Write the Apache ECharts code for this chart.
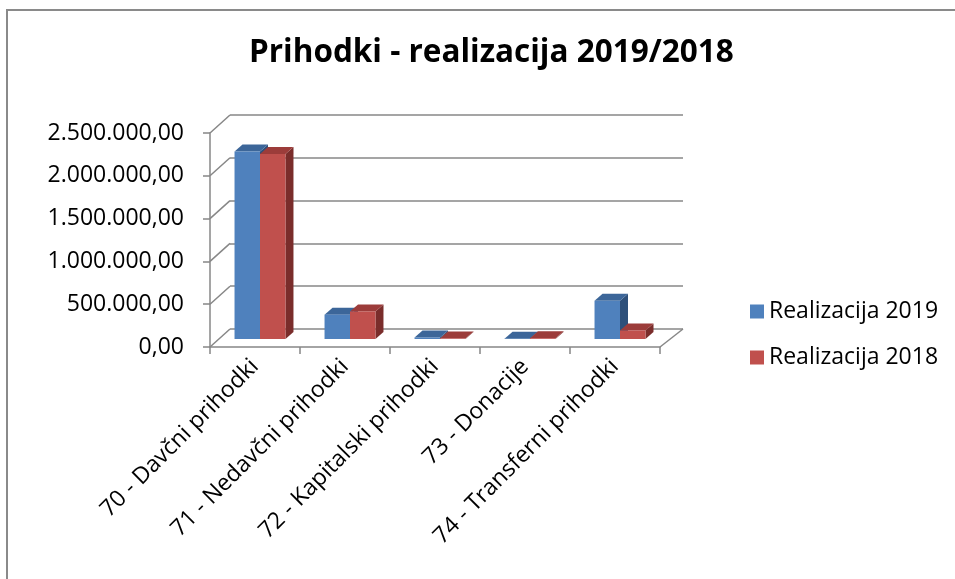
<!DOCTYPE html>
<html>
<head>
<meta charset="utf-8">
<script src="https://cdn.jsdelivr.net/npm/echarts@6/dist/echarts.min.js"></script>
<style>html,body{margin:0;padding:0;background:#fff}#c{width:955px;height:579px}</style>
</head>
<body>
<div id="c"></div>
<script>
const categories = ['70 - Davčni prihodki', '71 - Nedavčni prihodki', '72 - Kapitalski prihodki', '73 - Donacije', '74 - Transferni prihodki'];
const seriesNames = ['Realizacija 2019', 'Realizacija 2018'];
const realizacija2019 = [2190000, 284000, 18000, 4000, 447000];
const realizacija2018 = [2160000, 322000, 6000, 9000, 100000];
const yTicks = [0, 500000, 1000000, 1500000, 2000000, 2500000];

const FONT = 'Open Sans';
const front = ['#4f81bd', '#c0504d'];
const topC = ['#3c6699', '#9c3c3a'];
const sideC = ['#2e507a', '#7a2d2b'];
const GRIDC = '#878787';

function fmt(v) {
  const s = Math.round(v).toString().replace(/\B(?=(\d{3})+(?!\d))/g, '.');
  return s + ',00';
}

function barRender(si) {
  return function (params, api) {
    const ci = api.value(0), v = api.value(1);
    const base = api.coord([ci, 0]);
    const top = api.coord([ci, v]);
    const band = api.size([1, 0])[0];
    const w = band * 0.283;
    const sx = 5, sy = -8, dx = 8, dy = -7;
    const x0 = base[0] + sx + (si === 0 ? -w : 0);
    const yb = base[1] + sy, yt = top[1] + sy;
    const children = [
      { type: 'polygon', shape: { points: [[x0 + w, yt], [x0 + w + dx, yt + dy], [x0 + w + dx, yb + dy], [x0 + w, yb]] }, style: { fill: sideC[si] } },
      { type: 'polygon', shape: { points: [[x0, yt], [x0 + w, yt], [x0 + w + dx, yt + dy], [x0 + dx, yt + dy]] }, style: { fill: topC[si] } },
      { type: 'rect', shape: { x: x0, y: yt, width: w, height: Math.max(yb - yt, 0.01) }, style: { fill: front[si] } }
    ];
    return { type: 'group', children: children };
  };
}

function wallRender(params, api) {
  const v = api.value(0);
  const p = api.coord([0, v]);
  const band = api.size([1, 0])[0];
  const left = p[0] - band / 2;
  const children = [
    { type: 'line', shape: { x1: left, y1: p[1], x2: left + 20, y2: p[1] - 18 }, style: { stroke: GRIDC, lineWidth: 1.5 } }
  ];
  if (v === 0) {
    const pr = api.coord([categories.length - 1, 0]);
    const right = pr[0] + band / 2;
    children.push({ type: 'line', shape: { x1: right, y1: p[1], x2: right + 23, y2: p[1] - 18 }, style: { stroke: GRIDC, lineWidth: 1.5 } });
  }
  return { type: 'group', children: children };
}

const chart = echarts.init(document.getElementById('c'), null, { renderer: 'canvas' });
chart.setOption({
  animation: false,
  backgroundColor: '#fff',
  title: {
    text: 'Prihodki - realizacija 2019/2018',
    left: 244, top: 32,
    textStyle: { fontFamily: FONT, fontWeight: 'bold', fontSize: 31.5, color: '#000' }
  },
  legend: {
    orient: 'vertical',
    left: 745, top: 295,
    itemWidth: 14, itemHeight: 14, itemGap: 23,
    icon: 'rect',
    data: [
      { name: seriesNames[0], itemStyle: { color: front[0] } },
      { name: seriesNames[1], itemStyle: { color: front[1] } }
    ],
    textStyle: { fontFamily: FONT, fontSize: 23, color: '#000' }
  },
  graphic: [
    { type: 'rect', shape: { x: 7, y: 10, width: 980, height: 600 }, style: { fill: 'none', stroke: '#8a8a8a', lineWidth: 2 }, silent: true }
  ],
  grid: [
    { left: 210, top: 133, width: 450, height: 214 },
    { left: 230, top: 115, width: 453, height: 214 }
  ],
  xAxis: [
    {
      type: 'category', gridIndex: 0, data: categories,
      axisLine: { lineStyle: { color: GRIDC, width: 1.5 } },
      axisTick: { show: true, length: 7, lineStyle: { color: GRIDC, width: 1.5 } },
      axisLabel: { rotate: 45, margin: 16, fontFamily: FONT, fontSize: 23, color: '#000', interval: 0 }
    },
    {
      type: 'category', gridIndex: 1, data: categories,
      axisLine: { show: false }, axisTick: { show: false }, axisLabel: { show: false }
    }
  ],
  yAxis: [
    {
      type: 'value', gridIndex: 0, min: 0, max: 2500000, interval: 500000,
      axisLine: { show: true, lineStyle: { color: GRIDC, width: 1.5 } },
      axisTick: { show: true, length: 7, lineStyle: { color: GRIDC, width: 1.5 } },
      splitLine: { show: false },
      axisLabel: { margin: 26, fontFamily: FONT, fontSize: 23, color: '#000', formatter: fmt }
    },
    {
      type: 'value', gridIndex: 1, min: 0, max: 2500000, interval: 500000,
      axisLine: { show: false }, axisTick: { show: false }, axisLabel: { show: false },
      splitLine: { show: true, lineStyle: { color: GRIDC, width: 1.5 } }
    }
  ],
  series: [
    {
      type: 'custom', name: 'walls', xAxisIndex: 0, yAxisIndex: 0, silent: true,
      renderItem: wallRender, data: yTicks.map(v => [v]), encode: { y: 0 }, z: 1
    },
    {
      type: 'custom', name: seriesNames[0], xAxisIndex: 0, yAxisIndex: 0,
      itemStyle: { color: front[0] },
      renderItem: barRender(0), data: realizacija2019.map((v, i) => [i, v]), encode: { x: 0, y: 1 }, z: 3
    },
    {
      type: 'custom', name: seriesNames[1], xAxisIndex: 0, yAxisIndex: 0,
      itemStyle: { color: front[1] },
      renderItem: barRender(1), data: realizacija2018.map((v, i) => [i, v]), encode: { x: 0, y: 1 }, z: 4
    }
  ]
});
</script>
</body>
</html>
